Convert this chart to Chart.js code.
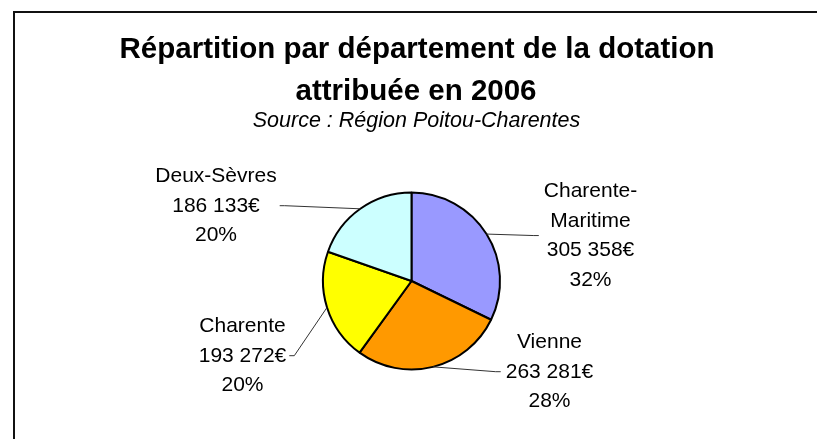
<!DOCTYPE html>
<html lang="fr">
<head>
<meta charset="utf-8">
<title>Répartition par département de la dotation</title>
<script src="https://cdn.jsdelivr.net/npm/chart.js@4"></script>
<style>
  html, body { margin: 0; padding: 0; background: #fff; }
  canvas { display: block; }
</style>
</head>
<body>
<canvas id="dotation-chart" width="817" height="439"></canvas>
<script>
// données du graphique
const departements = ['Charente-Maritime', 'Vienne', 'Charente', 'Deux-Sèvres'];
const dotations = [305358, 263281, 193272, 186133];
const couleurs = ['#9999FF', '#FF9900', '#FFFF00', '#CCFFFF'];

const titre = ['Répartition par département de la dotation', 'attribuée en 2006'];
const sousTitre = 'Source : Région Poitou-Charentes';

// position des étiquettes (centre x, ligne de base de la première ligne)
const etiquettes = [
    { x: 590.5, y: 197 },
    { x: 549.5, y: 348 },
    { x: 242.5, y: 332 },
    { x: 216, y: 182 }
];

const POLICE = '"Liberation Sans", Arial, sans-serif';
const INTERLIGNE = 29.7;

// 305358 -> "305 358€"
function formatEuro(v) {
    return v.toString().replace(/\B(?=(\d{3})+(?!\d))/g, ' ') + '€';
}

// coupe un nom trop long après le tiret
function couper(ctx, texte, max) {
    if (ctx.measureText(texte).width <= max || texte.indexOf('-') < 0) return [texte];
    const i = texte.indexOf('-');
    return [texte.slice(0, i + 1), texte.slice(i + 1)];
}

const decorPlugin = {
    id: 'decor',
    beforeDraw(chart) {
        const ctx = chart.ctx;
        ctx.save();
        ctx.fillStyle = '#fff';
        ctx.fillRect(0, 0, chart.width, chart.height);

        // cadre
        ctx.strokeStyle = '#111';
        ctx.lineWidth = 2;
        ctx.strokeRect(14, 12, chart.width + 20, chart.height + 20);

        // titre et source
        ctx.fillStyle = '#000';
        ctx.textAlign = 'center';
        ctx.textBaseline = 'alphabetic';
        ctx.font = 'bold 29.5px ' + POLICE;
        ctx.fillText(titre[0], 417, 58);
        ctx.fillText(titre[1], 416, 100);
        ctx.font = 'italic 21.5px ' + POLICE;
        ctx.fillText(sousTitre, 416.5, 127);
        ctx.restore();
    },
    afterDatasetsDraw(chart) {
        const ctx = chart.ctx;
        const meta = chart.getDatasetMeta(0);
        const total = dotations.reduce((a, b) => a + b, 0);

        ctx.save();
        ctx.font = '21px ' + POLICE;
        ctx.textAlign = 'center';
        ctx.textBaseline = 'alphabetic';

        meta.data.forEach((arc, i) => {
            const lignes = couper(ctx, departements[i], 140)
                .concat([formatEuro(dotations[i]), Math.round(dotations[i] / total * 100) + '%']);
            const pos = etiquettes[i];
            const largeur = Math.max(...lignes.map(l => ctx.measureText(l).width));

            // trait de rappel
            const p = arc.getProps(['x', 'y', 'startAngle', 'endAngle', 'outerRadius'], true);
            const angle = (p.startAngle + p.endAngle) / 2;
            const ax = p.x + Math.cos(angle) * p.outerRadius;
            const ay = p.y + Math.sin(angle) * p.outerRadius;
            const aGauche = pos.x < p.x;
            const ex = aGauche ? pos.x + largeur / 2 + 3 : pos.x - largeur / 2 - 5;
            const ey = pos.y + (lignes.length - 1) * INTERLIGNE / 2 - 6;
            const coude = aGauche ? ex + 5 : ex - 5;

            ctx.strokeStyle = '#333';
            ctx.lineWidth = 1;
            ctx.beginPath();
            ctx.moveTo(ex, ey);
            ctx.lineTo(coude, ey);
            ctx.lineTo(ax, ay);
            ctx.stroke();

            // texte
            ctx.fillStyle = '#000';
            lignes.forEach((l, k) => {
                ctx.fillText(l, pos.x, pos.y + k * INTERLIGNE);
            });
        });
        ctx.restore();
    }
};

const ctx = document.getElementById('dotation-chart').getContext('2d');
const chart = new Chart(ctx, {
    type: 'pie',
    data: {
        labels: departements,
        datasets: [{
            data: dotations,
            backgroundColor: couleurs,
            borderColor: '#000',
            borderWidth: 2
        }]
    },
    options: {
        responsive: false,
        devicePixelRatio: 1,
        animation: false,
        events: [],
        radius: 88.5,
        layout: {
            padding: { left: 10, right: 4, top: 180, bottom: 57 }
        },
        plugins: {
            legend: { display: false },
            title: { display: false },
            tooltip: { enabled: false }
        }
    },
    plugins: [decorPlugin]
});
</script>
</body>
</html>
